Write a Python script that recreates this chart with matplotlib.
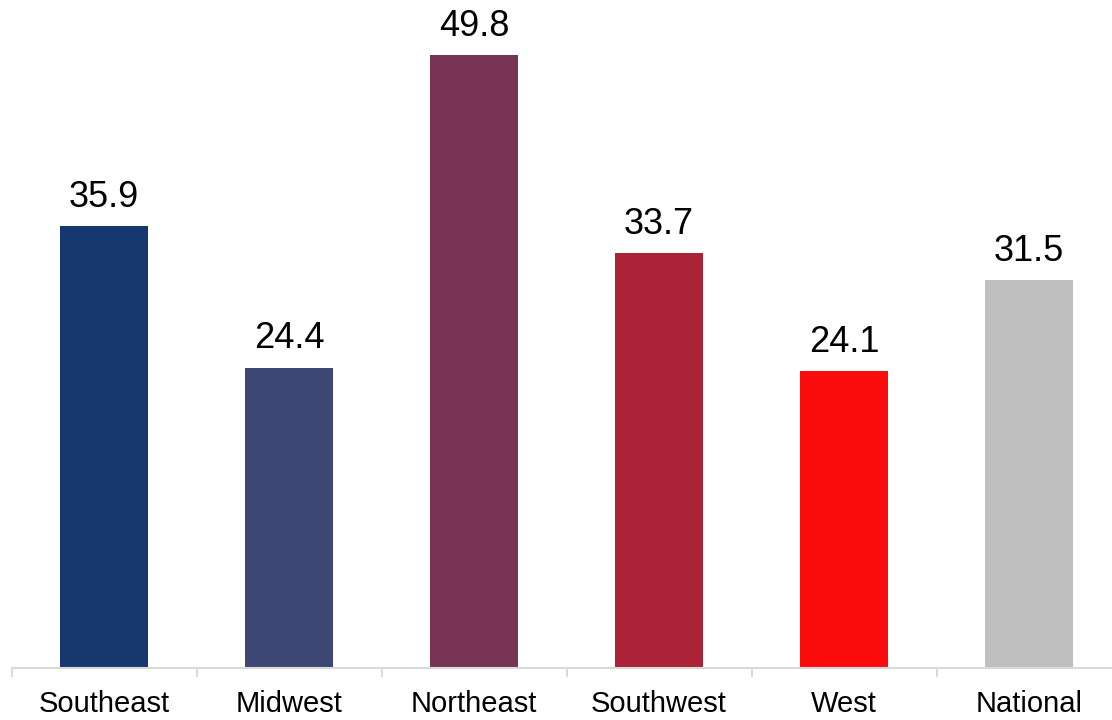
import numpy as np
import matplotlib.pyplot as plt

plt.rcParams['font.family'] = ['Liberation Sans', 'DejaVu Sans']

regions = ['Southeast', 'Midwest', 'Northeast', 'Southwest', 'West', 'National']
values = [35.9, 24.4, 49.8, 33.7, 24.1, 31.5]
colors = ['#17386f', '#3e4673', '#773455', '#ab2337', '#fa0c0c', '#bfbfbf']

fig = plt.figure(figsize=(11.12, 7.2), dpi=100)
ax = fig.add_axes([11.5/1112, 52/720, 1110/1112, 668/720])

x = np.arange(len(regions))
bars = ax.bar(x, values, width=0.476, color=colors)

for b, v in zip(bars, values):
    ax.annotate(f'{v:.1f}', (b.get_x() + b.get_width()/2, v),
                xytext=(0, 14), textcoords='offset points',
                ha='center', va='baseline', fontsize=26)

ax.set_xlim(-0.5, len(regions) - 0.5)
ax.set_ylim(0, 668/12.31)

ax.set_xticks(x)
ax.set_xticklabels(regions, fontsize=21)
ax.set_xticks(np.arange(-0.5, len(regions)), minor=True)
ax.tick_params(axis='x', which='major', length=0, pad=16)
ax.tick_params(axis='x', which='minor', length=6.5, width=1.5, color='#d9d9d9')
ax.set_yticks([])

for s in ['top', 'right', 'left']:
    ax.spines[s].set_visible(False)
ax.spines['bottom'].set_color('#d9d9d9')
ax.spines['bottom'].set_linewidth(1.5)

fig.savefig('out.png', dpi=100)
